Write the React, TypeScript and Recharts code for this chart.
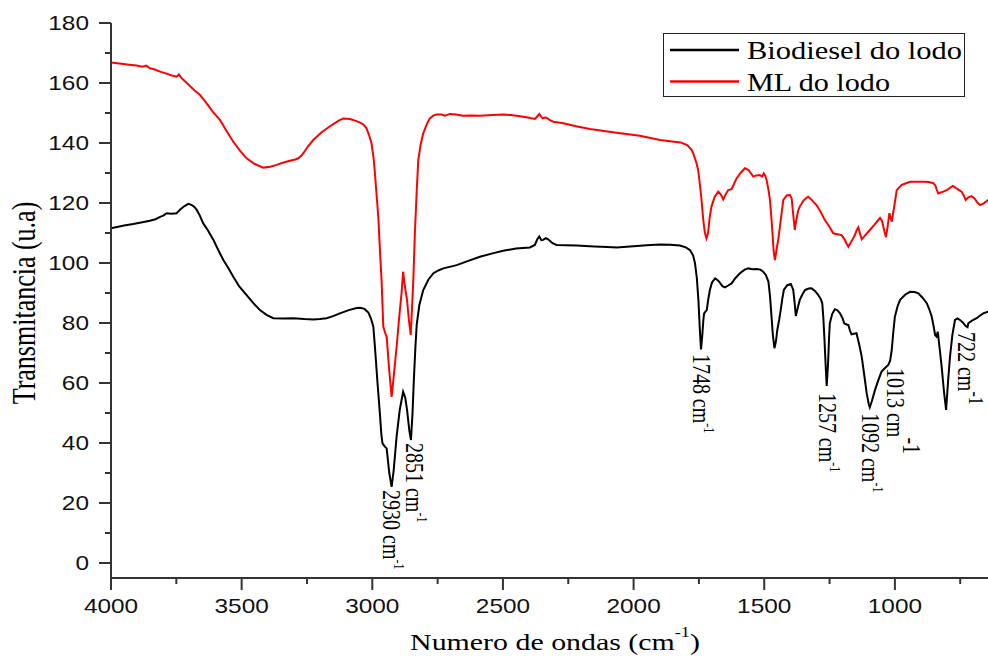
import React from 'react';
import { LineChart, Line, XAxis, YAxis, ReferenceDot } from 'recharts';

// Biodiesel do lodo (black)
const bioWave = [
  4000, 3950, 3915, 3880, 3851, 3830, 3812, 3800, 3787, 3770, 3749, 3735, 3720, 3704, 3690, 3680, 3672, 3660, 3647, 3630,
  3608, 3590, 3570, 3550, 3532, 3510, 3481, 3455, 3430, 3405, 3379, 3340, 3302, 3260, 3226, 3200, 3175, 3150, 3124, 3090,
  3060, 3047, 3030, 3015, 3005, 2996, 2990, 2980, 2971, 2965, 2961, 2952, 2945, 2935, 2926, 2918, 2907, 2895, 2882, 2874,
  2867, 2858, 2852, 2846, 2841, 2835, 2830, 2820, 2805, 2785, 2766, 2745, 2728, 2700, 2677, 2630, 2588, 2540, 2499, 2450,
  2397, 2378, 2368, 2361, 2353, 2346, 2336, 2327, 2310, 2295, 2260, 2218, 2150, 2100, 2065, 2000, 1950, 1899, 1860, 1823,
  1800, 1784, 1772, 1765, 1758, 1752, 1746, 1742, 1737, 1733, 1730, 1725, 1720, 1714, 1708, 1700, 1688, 1675, 1660, 1650,
  1638, 1625, 1610, 1593, 1575, 1561, 1545, 1529, 1515, 1504, 1494, 1484, 1478, 1474, 1467, 1461, 1455, 1450, 1443, 1437,
  1431, 1425, 1412, 1398, 1389, 1384, 1379, 1372, 1364, 1354, 1344, 1330, 1319, 1305, 1293, 1284, 1278, 1274, 1270, 1265,
  1261, 1256, 1252, 1249, 1240, 1230, 1220, 1210, 1200, 1194, 1185, 1178, 1172, 1166, 1157, 1147, 1137, 1127, 1117, 1108,
  1100, 1096, 1088, 1076, 1064, 1051, 1038, 1025, 1018, 1012, 1006, 1000, 990, 980, 960, 942, 925, 910, 895, 878,
  868, 859, 852, 846, 841, 836, 828, 821, 812, 804, 797, 789, 780, 770, 760, 751, 740, 729, 722, 719,
  705, 687, 675, 662, 644, 636,
];
const bioT = [
  111.6, 112.5, 113, 113.6, 114.1, 114.6, 115.4, 115.8, 116.6, 116.4, 116.6, 117.8, 118.9, 119.7, 119.3, 118.6, 117.7, 115.8, 113.2, 111,
  107.7, 104.4, 101, 98.2, 95.4, 92.3, 89.3, 86.6, 84.3, 82.7, 81.6, 81.5, 81.6, 81.3, 81.2, 81.3, 81.6, 82.3, 83.2, 84.3,
  85, 85.1, 84.7, 83.5, 81.5, 78.8, 72.1, 60, 49.9, 42.5, 39.9, 38.8, 38.2, 30, 25.4, 31, 42.1, 51, 57.1, 55.2,
  51, 44, 41, 50, 61, 72, 79.5, 86, 91, 94.5, 96.6, 97.6, 98.2, 98.8, 99.3, 100.8, 102.1, 103.2, 104.1, 104.8,
  105.2, 106, 108, 108.8, 107.6, 107.7, 108.3, 107.9, 106.6, 106, 105.9, 105.8, 105.5, 105.3, 105.2, 105.6, 105.9, 106.2, 106.1, 105.8,
  105.2, 104.3, 102.5, 99.9, 95, 87.7, 77, 71.2, 76, 81, 83.2, 83.8, 84.3, 88, 91, 93.5, 94.9, 94, 92.3, 91.9,
  92.5, 93.2, 95, 96.6, 97.8, 98.2, 97.9, 98, 97.8, 97.1, 96, 93.8, 89, 84.3, 76, 71.6, 74, 77.7, 81, 84.3,
  88, 91, 92.6, 93, 91, 87, 82.3, 85, 87.7, 89.5, 91, 91.5, 91.6, 90.6, 89.3, 88, 86.6, 82, 75.4, 66,
  59, 66, 75, 79.9, 83, 84.6, 84.2, 83.2, 81.5, 79.9, 79.5, 79.3, 77.5, 76.2, 76.4, 76.6, 73, 68.8, 62.5, 56.6,
  53, 51.9, 54, 57.7, 60.8, 63.8, 65, 66, 67.5, 71, 77, 82.1, 85.5, 87.7, 89.5, 90.4, 90.3, 89.9, 88.5, 86.6,
  84.5, 82.1, 79, 76, 75.5, 77.1, 71, 65.4, 57, 51, 60, 68.8, 76, 81, 81.5, 81, 80.2, 79, 78.6, 79.9,
  80.8, 81.6, 82.4, 83.2, 83.8, 84,
];

// ML do lodo (red)
const mlWave = [
  4000, 3960, 3930, 3902, 3880, 3865, 3851, 3835, 3812, 3790, 3770, 3749, 3740, 3730, 3715, 3698, 3680, 3659, 3645, 3634,
  3610, 3583, 3560, 3532, 3505, 3481, 3450, 3417, 3390, 3366, 3340, 3315, 3295, 3283, 3270, 3264, 3245, 3226, 3195, 3162,
  3130, 3111, 3085, 3060, 3047, 3033, 3022, 3012, 3003, 2995, 2990, 2983, 2977, 2970, 2964, 2958, 2950, 2945, 2935, 2926,
  2916, 2907, 2897, 2888, 2882, 2875, 2867, 2860, 2853, 2848, 2843, 2837, 2830, 2824, 2815, 2805, 2790, 2780, 2765, 2754,
  2735, 2722, 2703, 2680, 2652, 2620, 2588, 2540, 2499, 2470, 2448, 2410, 2378, 2368, 2361, 2354, 2348, 2340, 2333, 2320,
  2307, 2269, 2220, 2167, 2120, 2065, 2020, 1976, 1930, 1899, 1860, 1820, 1795, 1778, 1772, 1760, 1753, 1746, 1740, 1733,
  1727, 1721, 1715, 1709, 1702, 1690, 1676, 1666, 1657, 1648, 1638, 1625, 1615, 1606, 1590, 1574, 1560, 1542, 1530, 1517,
  1508, 1502, 1496, 1491, 1484, 1478, 1470, 1464, 1459, 1452, 1446, 1440, 1433, 1427, 1414, 1402, 1395, 1389, 1383, 1378,
  1370, 1364, 1350, 1340, 1332, 1320, 1310, 1300, 1284, 1268, 1250, 1236, 1220, 1204, 1192, 1185, 1178, 1168, 1160, 1153,
  1146, 1140, 1134, 1127, 1112, 1096, 1078, 1057, 1049, 1040, 1034, 1028, 1021, 1016, 1012, 1004, 993, 975, 960, 942,
  915, 891, 870, 853, 845, 840, 834, 825, 815, 800, 790, 779, 770, 760, 745, 737, 729, 720, 707, 695,
  685, 674, 660, 644, 636,
];
const mlT = [
  166.8, 166.4, 166.1, 165.8, 165.4, 165.8, 164.9, 164.6, 163.8, 163.2, 162.6, 162.1, 162.8, 161.6, 160.4, 159, 157.5, 156, 154.5, 153.2,
  150.4, 147.7, 144.3, 140.4, 137.3, 134.9, 133, 131.8, 132.1, 132.7, 133.5, 134.1, 134.5, 134.9, 135.9, 136.6, 139, 141, 143.5, 145.6,
  147.4, 148.2, 148, 147.3, 146.8, 146.1, 144.9, 142.5, 139.9, 135, 130, 122, 115.4, 103, 93.3, 78.8, 76.5, 75.4, 64, 55.4,
  64, 72, 82, 90, 97.1, 92, 87.7, 81, 76, 85, 94.3, 110, 124, 134.3, 139.5, 143.2, 146.5, 148.2, 149.2, 149.5,
  149.5, 149.1, 149.7, 149.5, 149.1, 149.2, 149.1, 149.3, 149.5, 149.3, 149.1, 148.6, 148, 148.9, 149.7, 148.8, 148.2, 148.5, 148.4, 147.6,
  147.1, 146.6, 145.6, 144.7, 144.1, 143.4, 142.9, 142.4, 141.6, 141, 140.6, 140.2, 139.3, 137.7, 136.6, 133.5, 131, 126, 121, 114,
  110, 108.2, 110, 115, 118.8, 122, 123.8, 122.8, 121.2, 122.8, 124.3, 124.6, 126.5, 128.2, 130.1, 131.6, 131, 128.8, 129.2, 129.3,
  128.8, 129.9, 129, 127.7, 124.5, 121, 112, 104, 101, 105, 108, 112.1, 117, 121, 122.5, 122.7, 121.5, 116, 111, 114,
  117.5, 118.8, 120.8, 121.6, 122.1, 121.2, 120.2, 119.3, 117, 114.3, 112, 109.9, 109.6, 109.3, 107.8, 106.5, 105.4, 106.9, 108.2, 109.3,
  111, 111.9, 110, 107.9, 109.4, 111, 112.8, 115, 114, 110.5, 108.6, 112, 116.6, 115, 113.8, 118, 124.3, 126, 126.5, 127.1,
  127.1, 127.1, 127, 126.6, 125.8, 124.5, 123.2, 123.5, 123.8, 124.4, 125, 125.7, 125.2, 124.6, 123.8, 122.6, 121, 121.8, 122.3, 121.5,
  120.2, 119.3, 119.9, 121, 121.3,
];

const xTicks = [4000, 3750, 3500, 3250, 3000, 2750, 2500, 2250, 2000, 1750, 1500, 1250, 1000, 750];
const yTicks = [0, 10, 20, 30, 40, 50, 60, 70, 80, 90, 100, 110, 120, 130, 140, 150, 160, 170, 180];

// peak labels: anchor (wavenumber, transmittance) where the rotated text starts
const peakLabels = [
  { w: 2926, t: 24.3, text: '2930 cm', bigSup: 0, supSize: 12 },
  { w: 2838, t: 40, text: '2851 cm', bigSup: 0, supSize: 12 },
  { w: 1739, t: 69.7, text: '1748 cm', bigSup: 0, supSize: 12 },
  { w: 1257, t: 56.7, text: '1257 cm', bigSup: 0, supSize: 12 },
  { w: 1093, t: 50, text: '1092 cm', bigSup: 0, supSize: 12 },
  { w: 997, t: 65, text: '1013 cm', bigSup: 13, supSize: 20 },
  { w: 726, t: 77, text: '722 cm', bigSup: 9, supSize: 16 },
];

const bioData = bioWave.map((w, i) => ({ w, t: bioT[i] }));
const mlData = mlWave.map((w, i) => ({ w, t: mlT[i] }));

const AXIS = '#333';
const SANS = '"Liberation Sans", Arial, sans-serif';
const SERIF = '"Liberation Serif", "Times New Roman", serif';

const XTick = ({ x, y, payload }: any) => {
  const major = payload.value % 500 === 0;
  return (
    <g>
      <line x1={x} x2={x} y1={y} y2={y + (major ? 12 : 6)} stroke={AXIS} strokeWidth={2} />
      {major && (
        <text transform={`translate(${x},${y + 35}) scale(1.22,1)`} textAnchor="middle" fontFamily={SANS} fontSize={20} fill="#111">
          {payload.value}
        </text>
      )}
    </g>
  );
};

const YTick = ({ x, y, payload }: any) => {
  const major = payload.value % 20 === 0;
  return (
    <g>
      <line x1={x - (major ? 12 : 6)} x2={x} y1={y} y2={y} stroke={AXIS} strokeWidth={2} />
      {major && (
        <text transform={`translate(${x - 22},${y + 7}) scale(1.22,1)`} textAnchor="end" fontFamily={SANS} fontSize={20} fill="#111">
          {payload.value}
        </text>
      )}
    </g>
  );
};

const PeakLabel = ({ cx, cy, text, bigSup, supSize }: any) => (
  <g transform={`translate(${cx},${cy}) scale(1.25,1) rotate(90)`}>
    <text x={0} y={7} fontFamily={SERIF} fontSize={20} fill="#000">
      {text}
      <tspan dy={bigSup ? -bigSup : -9} fontSize={supSize}>-1</tspan>
    </text>
  </g>
);

export default function App() {
  return (
    <div style={{ position: 'absolute', left: 0, top: 0, width: 988, height: 661, overflow: 'hidden', background: '#fff' }}>
      <LineChart width={1000} height={661} margin={{ top: 23, right: 10, left: 0, bottom: 0 }}>
        <XAxis
          xAxisId="b"
          dataKey="w"
          type="number"
          domain={[636, 4000]}
          reversed
          allowDataOverflow
          ticks={xTicks}
          interval={0}
          height={83}
          tickSize={0}
          tickMargin={0}
          tickLine={false}
          axisLine={{ stroke: AXIS, strokeWidth: 2 }}
          tick={<XTick />}
        />
        <XAxis
          xAxisId="top"
          orientation="top"
          dataKey="w"
          type="number"
          domain={[636, 4000]}
          reversed
          height={0}
          tick={false}
          tickLine={false}
          axisLine={{ stroke: AXIS, strokeWidth: 2 }}
        />
        <YAxis
          dataKey="t"
          type="number"
          domain={[-5, 180]}
          allowDataOverflow
          ticks={yTicks}
          interval={0}
          width={111}
          tickSize={0}
          tickMargin={0}
          tickLine={false}
          axisLine={{ stroke: AXIS, strokeWidth: 2 }}
          tick={<YTick />}
        />
        <Line
          xAxisId="b"
          data={mlData}
          dataKey="t"
          type="linear"
          stroke="#ff0000"
          strokeWidth={2}
          dot={false}
          isAnimationActive={false}
        />
        <Line
          xAxisId="b"
          data={bioData}
          dataKey="t"
          type="linear"
          stroke="#000"
          strokeWidth={2}
          dot={false}
          isAnimationActive={false}
        />
        {peakLabels.map((p) => (
          <ReferenceDot
            key={p.text}
            xAxisId="b"
            x={p.w}
            y={p.t}
            r={0}
            ifOverflow="visible"
            shape={(props: any) => (
              <PeakLabel cx={props.cx} cy={props.cy} text={p.text} bigSup={p.bigSup} supSize={p.supSize} />
            )}
          />
        ))}
      </LineChart>
      <svg width={988} height={661} style={{ position: 'absolute', left: 0, top: 0, pointerEvents: 'none' }}>
        <g transform="translate(35,303) scale(1.3,1) rotate(-90)">
          <text textAnchor="middle" fontFamily={SERIF} fontSize={26} fill="#000">Transmitancia (u.a)</text>
        </g>
        <g transform="translate(555,650) scale(1.3,1)">
          <text textAnchor="middle" fontFamily={SERIF} fontSize={23} fill="#000">
            Numero de ondas (cm
            <tspan dy={-13} fontSize={14}>-1</tspan>
            <tspan dy={13}>)</tspan>
          </text>
        </g>
        <rect x={663.5} y={33.5} width={301} height={63} fill="#fff" stroke="#222" strokeWidth={1} />
        <line x1={670} x2={739} y1={50} y2={50} stroke="#000" strokeWidth={2.5} />
        <text x={747} y={59} fontFamily={SERIF} fontSize={25} textLength={215} lengthAdjust="spacingAndGlyphs" fill="#000">
          Biodiesel do lodo
        </text>
        <line x1={670} x2={739} y1={81.5} y2={81.5} stroke="#ff0000" strokeWidth={2.5} />
        <text x={747} y={90.5} fontFamily={SERIF} fontSize={25} textLength={143} lengthAdjust="spacingAndGlyphs" fill="#000">
          ML do lodo
        </text>
      </svg>
    </div>
  );
}
